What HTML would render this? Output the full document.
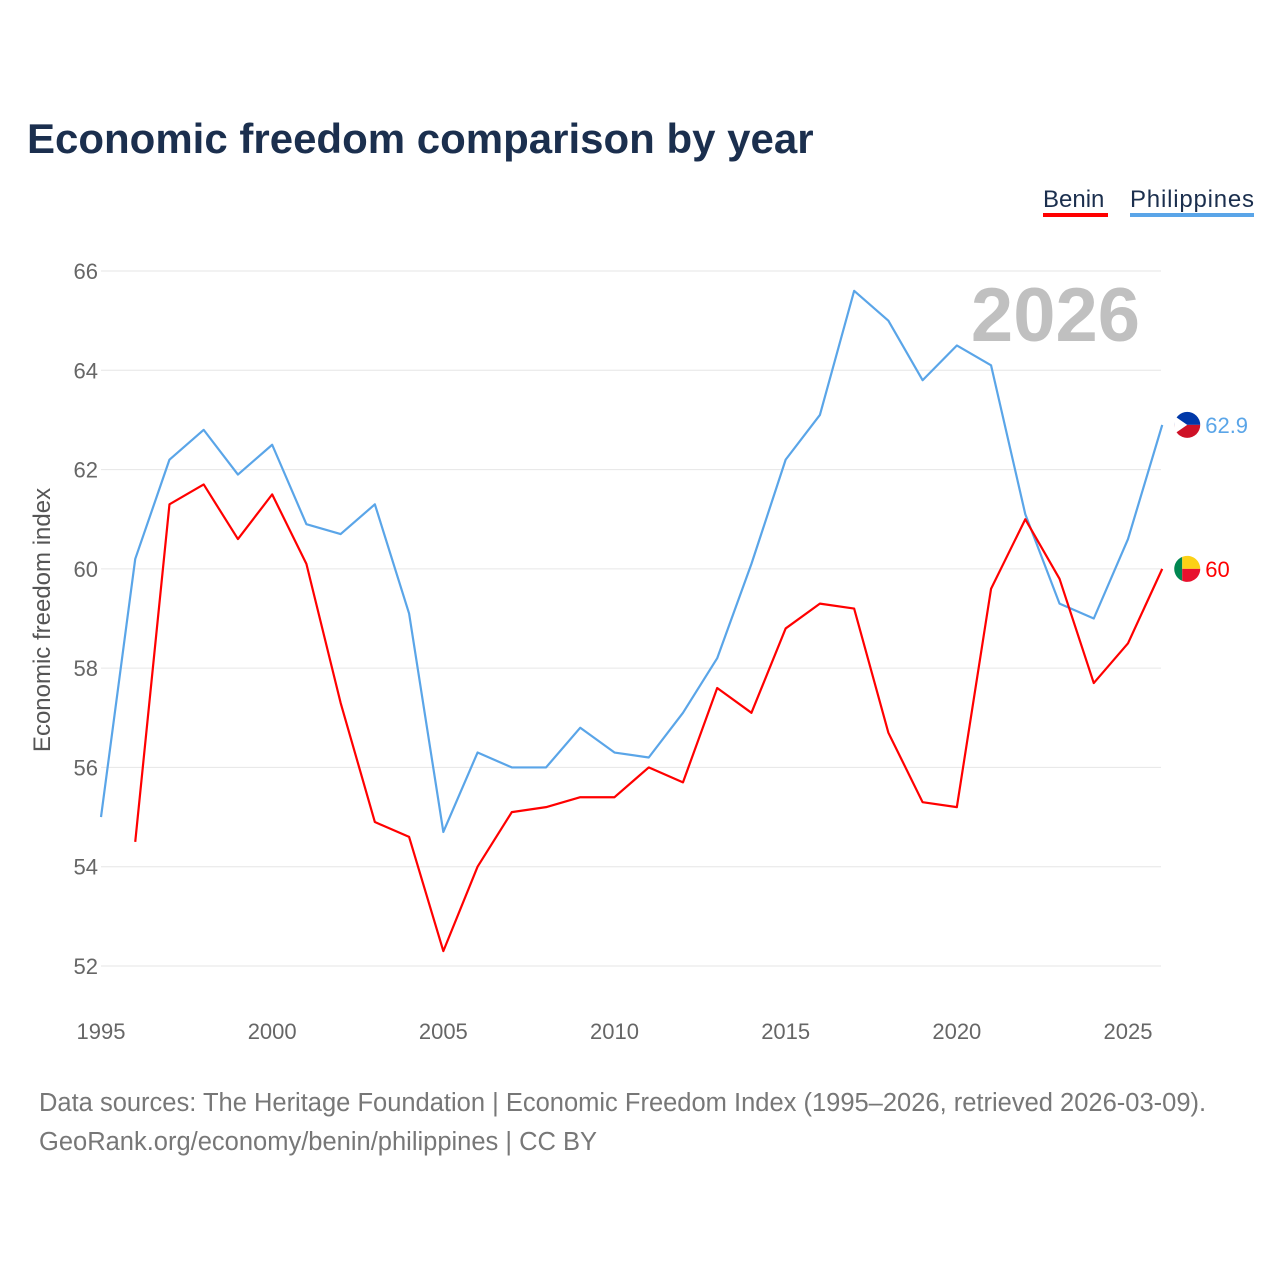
<!DOCTYPE html>
<html><head><meta charset="utf-8"><style>
body{margin:0;background:#fff;font-family:"Liberation Sans",sans-serif;}
svg text{font-family:"Liberation Sans",sans-serif;}
</style></head><body>
<svg id="chart" width="1280" height="1280" viewBox="0 0 1280 1280" xmlns="http://www.w3.org/2000/svg">
<text x="27" y="153" font-size="42" font-weight="bold" fill="#1b2f4e">Economic freedom comparison by year</text>
<g>
<text x="1043" y="207" font-size="24" fill="#1b2f4e">Benin</text>
<rect x="1043" y="213" width="65" height="4" fill="#f00"/></g>
<g>
<text x="1130" y="207" font-size="24" fill="#1b2f4e" textLength="124">Philippines</text>
<rect x="1130" y="213" width="124" height="4" fill="#5aa5e8"/></g>
<text x="1140" y="341" font-size="76" font-weight="bold" fill="#c0c0c0" text-anchor="end">2026</text>
<text transform="translate(50,620) rotate(-90)" font-size="24" fill="#555" text-anchor="middle">Economic freedom index</text>
<g id="grid"></g><g id="series"></g>
<text x="39" y="1111" font-size="25.5" fill="#777">Data sources: The Heritage Foundation | Economic Freedom Index (1995–2026, retrieved 2026-03-09).</text>
<text x="39" y="1150" font-size="25.5" fill="#777">GeoRank.org/economy/benin/philippines | CC BY</text>
</svg>
<script>
const yearsPh = [1995,1996,1997,1998,1999,2000,2001,2002,2003,2004,2005,2006,2007,2008,2009,2010,2011,2012,2013,2014,2015,2016,2017,2018,2019,2020,2021,2022,2023,2024,2025,2026];
const philippines = [55.0,60.2,62.2,62.8,61.9,62.5,60.9,60.7,61.3,59.1,54.7,56.3,56.0,56.0,56.8,56.3,56.2,57.1,58.2,60.1,62.2,63.1,65.6,65.0,63.8,64.5,64.1,61.1,59.3,59.0,60.6,62.9];
const yearsBj = [1996,1997,1998,1999,2000,2001,2002,2003,2004,2005,2006,2007,2008,2009,2010,2011,2012,2013,2014,2015,2016,2017,2018,2019,2020,2021,2022,2023,2024,2025,2026];
const benin = [54.5,61.3,61.7,60.6,61.5,60.1,57.3,54.9,54.6,52.3,54.0,55.1,55.2,55.4,55.4,56.0,55.7,57.6,57.1,58.8,59.3,59.2,56.7,55.3,55.2,59.6,61.0,59.8,57.7,58.5,60.0];
const yTicks = [52,54,56,58,60,62,64,66];
const xTicks = [1995,2000,2005,2010,2015,2020,2025];
const NS="http://www.w3.org/2000/svg";
const x = v => 101 + (v-1995)*(1128-101)/30;
const y = v => 966 - (v-52)*(966-271)/14;
function mk(tag, attrs, parent){const e=document.createElementNS(NS,tag);for(const k in attrs)e.setAttribute(k,attrs[k]);parent.appendChild(e);return e;}
const grid=document.getElementById('grid'), ser=document.getElementById('series');
yTicks.forEach(t=>{
  const l=mk('line',{x1:101,x2:1161,y1:y(t),y2:y(t),stroke:'#e6e6e6','stroke-width':1},grid);
  
  
  const tx=mk('text',{x:98,y:y(t)+8,'font-size':22,fill:'#666','text-anchor':'end'},grid);
  tx.textContent=t;
  
  
});
xTicks.forEach(t=>{
  const tx=mk('text',{x:x(t),y:1039,'font-size':22,fill:'#666','text-anchor':'middle'},grid);
  tx.textContent=t;
  
  
});
function line(xs, vs, color, name){
  const p=mk('polyline',{points:xs.map((yr,i)=>x(yr)+','+y(vs[i])).join(' '),fill:'none',stroke:color,'stroke-width':2.2,'stroke-linejoin':'round'},ser);
  
  
}
line(yearsPh, philippines, '#5aa5e8', 'philippines-line');
line(yearsBj, benin, '#f00', 'benin-line');
const lp=philippines[philippines.length-1], lb=benin[benin.length-1];
const fx=x(2026)+25;
let g=mk('g',{},ser);


mk('path',{d:`M${fx-13},${y(lp)} A13,13 0 0 1 ${fx+13},${y(lp)} Z`,fill:'#0038a8'},g);
mk('path',{d:`M${fx-13},${y(lp)} A13,13 0 0 0 ${fx+13},${y(lp)} Z`,fill:'#ce1126'},g);
mk('path',{d:`M${fx-13},${y(lp)-9} L${fx},${y(lp)} L${fx-13},${y(lp)+9} Z`,fill:'#fff'},g);
let t1=mk('text',{x:fx+18,y:y(lp)+8,'font-size':22,fill:'#5aa5e8'},ser);
t1.textContent=lp;


g=mk('g',{},ser);


mk('path',{d:`M${fx-5},${y(lb)-12} A13,13 0 0 0 ${fx-5},${y(lb)+12} Z`,fill:'#008751'},g);
mk('path',{d:`M${fx-5},${y(lb)-12} A13,13 0 0 1 ${fx+13},${y(lb)} L${fx-5},${y(lb)} Z`,fill:'#fcd116'},g);
mk('path',{d:`M${fx-5},${y(lb)} L${fx+13},${y(lb)} A13,13 0 0 1 ${fx-5},${y(lb)+12} Z`,fill:'#e8112d'},g);
let t2=mk('text',{x:fx+18,y:y(lb)+8,'font-size':22,fill:'#f00'},ser);
t2.textContent=lb;


</script>
</body></html>
